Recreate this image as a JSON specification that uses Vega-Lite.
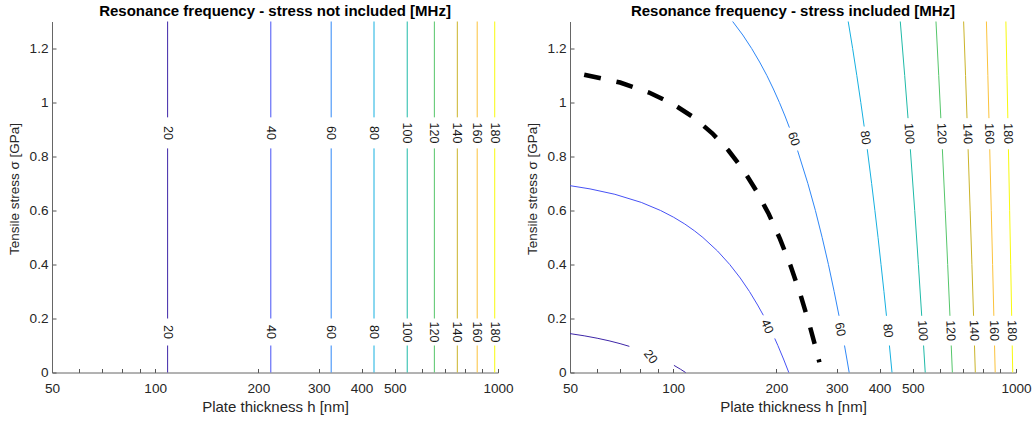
{
  "$schema": "https://vega.github.io/schema/vega-lite/v6.json",
  "padding": {"left": 7, "top": 3.5, "right": 5, "bottom": 2},
  "background": "white",
  "config": {
    "font": "Liberation Sans",
    "view": {"stroke": null},
    "concat": {"spacing": 72},
    "axis": {
      "grid": false,
      "domainColor": "#666666",
      "domainWidth": 1,
      "tickColor": "#555555",
      "tickSize": -4,
      "labelFontSize": 13.6,
      "labelColor": "#262626",
      "titleFontSize": 15,
      "titleFontWeight": "normal",
      "titleColor": "#262626",
      "labelFont": "Liberation Sans",
      "titleFont": "Liberation Sans"
    },
    "title": {"fontSize": 15, "fontWeight": "bold", "color": "#000000", "font": "Liberation Sans", "offset": 3, "dy": 2.5, "anchor": "middle"}
  },
  "bounds": "flush",
  "datasets": {
    "L": [
      {"k":"20a","f":20,"h":108.7,"s":0},{"k":"20a","f":20,"h":108.7,"s":0.10},
      {"k":"20b","f":20,"h":108.7,"s":0.20},{"k":"20b","f":20,"h":108.7,"s":0.83},
      {"k":"20c","f":20,"h":108.7,"s":0.945},{"k":"20c","f":20,"h":108.7,"s":1.3},
      {"k":"40a","f":40,"h":217.4,"s":0},{"k":"40a","f":40,"h":217.4,"s":0.10},
      {"k":"40b","f":40,"h":217.4,"s":0.20},{"k":"40b","f":40,"h":217.4,"s":0.83},
      {"k":"40c","f":40,"h":217.4,"s":0.945},{"k":"40c","f":40,"h":217.4,"s":1.3},
      {"k":"60a","f":60,"h":326.1,"s":0},{"k":"60a","f":60,"h":326.1,"s":0.10},
      {"k":"60b","f":60,"h":326.1,"s":0.20},{"k":"60b","f":60,"h":326.1,"s":0.83},
      {"k":"60c","f":60,"h":326.1,"s":0.945},{"k":"60c","f":60,"h":326.1,"s":1.3},
      {"k":"80a","f":80,"h":434.8,"s":0},{"k":"80a","f":80,"h":434.8,"s":0.10},
      {"k":"80b","f":80,"h":434.8,"s":0.20},{"k":"80b","f":80,"h":434.8,"s":0.83},
      {"k":"80c","f":80,"h":434.8,"s":0.945},{"k":"80c","f":80,"h":434.8,"s":1.3},
      {"k":"100a","f":100,"h":543.5,"s":0},{"k":"100a","f":100,"h":543.5,"s":0.10},
      {"k":"100b","f":100,"h":543.5,"s":0.20},{"k":"100b","f":100,"h":543.5,"s":0.83},
      {"k":"100c","f":100,"h":543.5,"s":0.945},{"k":"100c","f":100,"h":543.5,"s":1.3},
      {"k":"120a","f":120,"h":652.2,"s":0},{"k":"120a","f":120,"h":652.2,"s":0.10},
      {"k":"120b","f":120,"h":652.2,"s":0.20},{"k":"120b","f":120,"h":652.2,"s":0.83},
      {"k":"120c","f":120,"h":652.2,"s":0.945},{"k":"120c","f":120,"h":652.2,"s":1.3},
      {"k":"140a","f":140,"h":760.9,"s":0},{"k":"140a","f":140,"h":760.9,"s":0.10},
      {"k":"140b","f":140,"h":760.9,"s":0.20},{"k":"140b","f":140,"h":760.9,"s":0.83},
      {"k":"140c","f":140,"h":760.9,"s":0.945},{"k":"140c","f":140,"h":760.9,"s":1.3},
      {"k":"160a","f":160,"h":869.6,"s":0},{"k":"160a","f":160,"h":869.6,"s":0.10},
      {"k":"160b","f":160,"h":869.6,"s":0.20},{"k":"160b","f":160,"h":869.6,"s":0.83},
      {"k":"160c","f":160,"h":869.6,"s":0.945},{"k":"160c","f":160,"h":869.6,"s":1.3},
      {"k":"180a","f":180,"h":978.3,"s":0},{"k":"180a","f":180,"h":978.3,"s":0.10},
      {"k":"180b","f":180,"h":978.3,"s":0.20},{"k":"180b","f":180,"h":978.3,"s":0.83},
      {"k":"180c","f":180,"h":978.3,"s":0.945},{"k":"180c","f":180,"h":978.3,"s":1.3}
    ],
    "LT": [
      {"label":"20","h":108.7,"s":0.15},{"label":"20","h":108.7,"s":0.887},
      {"label":"40","h":217.4,"s":0.15},{"label":"40","h":217.4,"s":0.887},
      {"label":"60","h":326.1,"s":0.15},{"label":"60","h":326.1,"s":0.887},
      {"label":"80","h":434.8,"s":0.15},{"label":"80","h":434.8,"s":0.887},
      {"label":"100","h":543.5,"s":0.15},{"label":"100","h":543.5,"s":0.887},
      {"label":"120","h":652.2,"s":0.15},{"label":"120","h":652.2,"s":0.887},
      {"label":"140","h":760.9,"s":0.15},{"label":"140","h":760.9,"s":0.887},
      {"label":"160","h":869.6,"s":0.15},{"label":"160","h":869.6,"s":0.887},
      {"label":"180","h":978.3,"s":0.15},{"label":"180","h":978.3,"s":0.887}
    ],
    "R": [
      {"k":"20a","f":20,"h":50,"s":0.144},{"k":"20a","f":20,"h":55,"s":0.1359},{"k":"20a","f":20,"h":60,"s":0.127},{"k":"20a","f":20,"h":65,"s":0.1174},{"k":"20a","f":20,"h":70,"s":0.1069},{"k":"20a","f":20,"h":74.5,"s":0.0968},
      {"k":"20b","f":20,"h":100.5,"s":0.0265},{"k":"20b","f":20,"h":105,"s":0.0122},{"k":"20b","f":20,"h":108.7,"s":0},
      {"k":"40a","f":40,"h":217.4,"s":0},{"k":"40a","f":40,"h":209.8,"s":0.05},{"k":"40a","f":40,"h":202.0,"s":0.10},{"k":"40a","f":40,"h":197.8,"s":0.126},
      {"k":"40b","f":40,"h":183.2,"s":0.212},{"k":"40b","f":40,"h":176.3,"s":0.25},{"k":"40b","f":40,"h":166.9,"s":0.3},{"k":"40b","f":40,"h":156.9,"s":0.35},{"k":"40b","f":40,"h":146.2,"s":0.4},{"k":"40b","f":40,"h":134.7,"s":0.45},{"k":"40b","f":40,"h":122.1,"s":0.5},{"k":"40b","f":40,"h":115.3,"s":0.525},{"k":"40b","f":40,"h":108.1,"s":0.55},{"k":"40b","f":40,"h":100.3,"s":0.575},{"k":"40b","f":40,"h":91.9,"s":0.6},{"k":"40b","f":40,"h":80.7,"s":0.63},{"k":"40b","f":40,"h":67.6,"s":0.66},{"k":"40b","f":40,"h":57.2,"s":0.68},{"k":"40b","f":40,"h":50,"s":0.692},
      {"k":"60a","f":60,"h":326.1,"s":0},{"k":"60a","f":60,"h":321.1,"s":0.05},{"k":"60a","f":60,"h":316.0,"s":0.10},
      {"k":"60b","f":60,"h":304.6,"s":0.21},{"k":"60b","f":60,"h":294.8,"s":0.3},{"k":"60b","f":60,"h":283.7,"s":0.4},{"k":"60b","f":60,"h":272.0,"s":0.5},{"k":"60b","f":60,"h":259.9,"s":0.6},{"k":"60b","f":60,"h":247.1,"s":0.7},{"k":"60b","f":60,"h":230.6,"s":0.822},
      {"k":"60c","f":60,"h":218.3,"s":0.907},{"k":"60c","f":60,"h":211.9,"s":0.95},{"k":"60c","f":60,"h":204.1,"s":1.0},{"k":"60c","f":60,"h":196.0,"s":1.05},{"k":"60c","f":60,"h":187.6,"s":1.1},{"k":"60c","f":60,"h":178.7,"s":1.15},{"k":"60c","f":60,"h":169.4,"s":1.2},{"k":"60c","f":60,"h":159.6,"s":1.25},{"k":"60c","f":60,"h":149.1,"s":1.3},
      {"k":"80a","f":80,"h":434.8,"s":0},{"k":"80a","f":80,"h":427.3,"s":0.10},
      {"k":"80b","f":80,"h":418.9,"s":0.21},{"k":"80b","f":80,"h":411.9,"s":0.3},{"k":"80b","f":80,"h":403.9,"s":0.4},{"k":"80b","f":80,"h":395.9,"s":0.5},{"k":"80b","f":80,"h":387.6,"s":0.6},{"k":"80b","f":80,"h":379.2,"s":0.7},{"k":"80b","f":80,"h":368.2,"s":0.827},
      {"k":"80c","f":80,"h":360.7,"s":0.911},{"k":"80c","f":80,"h":352.6,"s":1.0},{"k":"80c","f":80,"h":343.3,"s":1.1},{"k":"80c","f":80,"h":333.8,"s":1.2},{"k":"80c","f":80,"h":324.0,"s":1.3},
      {"k":"100a","f":100,"h":543.5,"s":0},{"k":"100a","f":100,"h":537.5,"s":0.10},
      {"k":"100b","f":100,"h":530.8,"s":0.21},{"k":"100b","f":100,"h":519.1,"s":0.4},{"k":"100b","f":100,"h":506.5,"s":0.6},{"k":"100b","f":100,"h":491.8,"s":0.827},
      {"k":"100c","f":100,"h":484.2,"s":0.942},{"k":"100c","f":100,"h":473.5,"s":1.1},{"k":"100c","f":100,"h":459.7,"s":1.3},
      {"k":"120a","f":120,"h":652.2,"s":0},{"k":"120a","f":120,"h":647.2,"s":0.10},
      {"k":"120b","f":120,"h":641.7,"s":0.21},{"k":"120b","f":120,"h":632.0,"s":0.4},{"k":"120b","f":120,"h":621.7,"s":0.6},{"k":"120b","f":120,"h":609.8,"s":0.827},
      {"k":"120c","f":120,"h":603.6,"s":0.942},{"k":"120c","f":120,"h":595.1,"s":1.1},{"k":"120c","f":120,"h":584.2,"s":1.3},
      {"k":"140a","f":140,"h":760.9,"s":0},{"k":"140a","f":140,"h":756.6,"s":0.10},
      {"k":"140b","f":140,"h":751.9,"s":0.21},{"k":"140b","f":140,"h":743.7,"s":0.4},{"k":"140b","f":140,"h":734.9,"s":0.6},{"k":"140b","f":140,"h":724.9,"s":0.827},
      {"k":"140c","f":140,"h":719.7,"s":0.942},{"k":"140c","f":140,"h":712.6,"s":1.1},{"k":"140c","f":140,"h":703.4,"s":1.3},
      {"k":"160a","f":160,"h":869.6,"s":0},{"k":"160a","f":160,"h":865.8,"s":0.10},
      {"k":"160b","f":160,"h":861.7,"s":0.21},{"k":"160b","f":160,"h":854.6,"s":0.4},{"k":"160b","f":160,"h":847.0,"s":0.6},{"k":"160b","f":160,"h":838.3,"s":0.827},
      {"k":"160c","f":160,"h":833.8,"s":0.942},{"k":"160c","f":160,"h":827.7,"s":1.1},{"k":"160c","f":160,"h":819.8,"s":1.3},
      {"k":"180a","f":180,"h":978.3,"s":0},{"k":"180a","f":180,"h":975.0,"s":0.10},
      {"k":"180b","f":180,"h":971.3,"s":0.21},{"k":"180b","f":180,"h":965.0,"s":0.4},{"k":"180b","f":180,"h":958.2,"s":0.6},{"k":"180b","f":180,"h":950.5,"s":0.827},
      {"k":"180c","f":180,"h":946.6,"s":0.942},{"k":"180c","f":180,"h":941.2,"s":1.1},{"k":"180c","f":180,"h":934.3,"s":1.3}
    ],
    "RT": [
      {"label":"20","h":86,"s":0.058,"ang":52},
      {"label":"40","h":188,"s":0.17,"ang":66},
      {"label":"60","h":307,"s":0.16,"ang":79.5},
      {"label":"60","h":224.7,"s":0.865,"ang":70.5},
      {"label":"80","h":423,"s":0.155,"ang":84},
      {"label":"80","h":363.5,"s":0.87,"ang":82},
      {"label":"100","h":534.2,"s":0.155,"ang":86.5},
      {"label":"100","h":488.3,"s":0.885,"ang":86},
      {"label":"120","h":644.5,"s":0.155,"ang":87.5},
      {"label":"120","h":607,"s":0.885,"ang":87},
      {"label":"140","h":754.2,"s":0.155,"ang":88},
      {"label":"140","h":722.5,"s":0.885,"ang":88},
      {"label":"160","h":863.8,"s":0.155,"ang":88.5},
      {"label":"160","h":836,"s":0.885,"ang":88.5},
      {"label":"180","h":973.1,"s":0.155,"ang":89},
      {"label":"180","h":948.7,"s":0.885,"ang":89}
    ],
    "D": [
      {"h":55,"s":1.103},{"h":70,"s":1.074},{"h":85,"s":1.037},{"h":100,"s":0.994},{"h":115,"s":0.944},{"h":130,"s":0.886},{"h":145,"s":0.822},{"h":160,"s":0.751},{"h":175,"s":0.672},{"h":190,"s":0.587},{"h":205,"s":0.494},{"h":220,"s":0.395},{"h":235,"s":0.289},{"h":250,"s":0.175},{"h":260,"s":0.095},{"h":267,"s":0.038}
    ]
  },
  "hconcat": [
    {
      "width": 446,
      "height": 351,
      "title": "Resonance frequency - stress not included [MHz]",
      "encoding": {
        "x": {"field": "h", "type": "quantitative",
          "scale": {"type": "log", "domain": [50, 1000]},
          "axis": {"title": "Plate thickness h [nm]", "values": [50,60,70,80,90,100,200,300,400,500,600,700,800,900,1000],
            "labelExpr": "(datum.value==50||datum.value==100||datum.value==200||datum.value==300||datum.value==400||datum.value==500||datum.value==1000) ? format(datum.value,'d') : ''",
            "labelOverlap": false, "labelFlush": false, "labelPadding": 13, "titlePadding": 4}},
        "y": {"field": "s", "type": "quantitative",
          "scale": {"domain": [0, 1.3]},
          "axis": {"title": "Tensile stress σ [GPa]", "titleFontSize": 13.5, "titleY": 167, "values": [0,0.2,0.4,0.6,0.8,1,1.2], "format": "~g", "labelPadding": 8, "titlePadding": 8}}
      },
      "layer": [
        {
          "data": {"name": "L"},
          "mark": {"type": "line", "strokeWidth": 1},
          "encoding": {
            "color": {"field": "f", "type": "ordinal", "legend": null,
              "scale": {"domain": [20,40,60,80,100,120,140,160,180], "range": ["#3e26a8","#4752f5","#2e87f7","#16b0e0","#1fbaa8","#55c66a","#cbb42a","#fbc33c","#f8fa0d"]}},
            "detail": {"field": "k"},
            "order": {"value": null}
          }
        },
        {
          "data": {"name": "LT"},
          "mark": {"type": "text", "angle": 90, "fontSize": 12.5, "color": "#1a1a1a", "align": "center", "baseline": "middle", "font": "Liberation Sans"},
          "encoding": {"text": {"field": "label"}}
        }
      ]
    },
    {
      "width": 446,
      "height": 351,
      "title": "Resonance frequency - stress included [MHz]",
      "encoding": {
        "x": {"field": "h", "type": "quantitative",
          "scale": {"type": "log", "domain": [50, 1000]},
          "axis": {"title": "Plate thickness h [nm]", "values": [50,60,70,80,90,100,200,300,400,500,600,700,800,900,1000],
            "labelExpr": "(datum.value==50||datum.value==100||datum.value==200||datum.value==300||datum.value==400||datum.value==500||datum.value==1000) ? format(datum.value,'d') : ''",
            "labelOverlap": false, "labelFlush": false, "labelPadding": 13, "titlePadding": 4}},
        "y": {"field": "s", "type": "quantitative",
          "scale": {"domain": [0, 1.3]},
          "axis": {"title": "Tensile stress σ [GPa]", "titleFontSize": 13.5, "titleY": 167, "values": [0,0.2,0.4,0.6,0.8,1,1.2], "format": "~g", "labelPadding": 8, "titlePadding": 8}}
      },
      "layer": [
        {
          "data": {"name": "R"},
          "mark": {"type": "line", "strokeWidth": 1},
          "encoding": {
            "color": {"field": "f", "type": "ordinal", "legend": null,
              "scale": {"domain": [20,40,60,80,100,120,140,160,180], "range": ["#3e26a8","#4752f5","#2e87f7","#16b0e0","#1fbaa8","#55c66a","#cbb42a","#fbc33c","#f8fa0d"]}},
            "detail": {"field": "k"},
            "order": {"value": null}
          }
        },
        {
          "data": {"name": "D"},
          "mark": {"type": "line", "strokeWidth": 4.5, "color": "#000000", "strokeDash": [17, 16], "strokeCap": "butt"},
          "encoding": {"order": {"value": null}}
        },
        {
          "data": {"name": "RT"},
          "mark": {"type": "text", "fontSize": 12.5, "color": "#1a1a1a", "align": "center", "baseline": "middle", "font": "Liberation Sans"},
          "encoding": {"text": {"field": "label"}, "angle": {"field": "ang", "type": "quantitative", "scale": null}}
        }
      ]
    }
  ]
}
